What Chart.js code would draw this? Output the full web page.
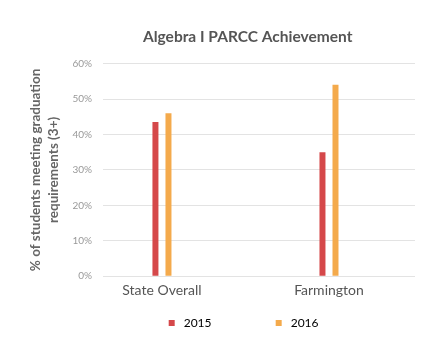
<!DOCTYPE html>
<html>
<head>
<meta charset="utf-8">
<script src="https://cdn.jsdelivr.net/npm/chart.js@4.4.1/dist/chart.umd.min.js"></script>
<style>
  html, body { margin: 0; padding: 0; background: #fff; }
  #wrap { width: 447px; height: 351px; }
</style>
</head>
<body>
<div id="wrap"><canvas id="myChart"></canvas></div>
<script>
// Chart data
const categories = ['State Overall', 'Farmington'];
const years = ['2015', '2016'];
const values2015 = [43.5, 35];
const values2016 = [46, 54];
const yTicks = [0, 10, 20, 30, 40, 50, 60];

// extra room (px) after each legend label, so the items sit apart like the original
const legendGaps = [50, 34];

Chart.defaults.font.family = 'Lato, sans-serif';

function toPoints(values) {
    return values.map((v, i) => ({ x: i, y: v }));
}

// pad a text with spaces up to roughly `gap` extra pixels
function padText(chart, text, gap, font) {
    const c = chart.ctx;
    c.save();
    c.font = font;
    const spaceW = c.measureText(' ').width || 3;
    c.restore();
    return text + ' '.repeat(Math.round(gap / spaceW));
}

const ctx = document.getElementById('myChart').getContext('2d');
new Chart(ctx, {
    type: 'bar',
    data: {
        datasets: [{
            label: years[0],
            data: toPoints(values2015),
            backgroundColor: '#d5484a',
            categoryPercentage: 0.156,
            barPercentage: 0.46
        }, {
            label: years[1],
            data: toPoints(values2016),
            backgroundColor: '#f4aa4c',
            categoryPercentage: 0.156,
            barPercentage: 0.46
        }]
    },
    options: {
        responsive: true,
        maintainAspectRatio: false,
        animation: false,
        layout: {
            padding: { left: 27, right: 32, top: 0, bottom: 12 }
        },
        plugins: {
            title: {
                display: true,
                fullSize: false,
                text: 'Algebra I PARCC Achievement' + '      ',
                color: '#555',
                font: { size: 15.5, weight: 'bold' },
                padding: { top: 28, bottom: 17 }
            },
            legend: {
                position: 'bottom',
                fullSize: false,
                labels: {
                    usePointStyle: true,
                    pointStyle: 'rect',
                    boxWidth: 12,
                    boxHeight: 6,
                    padding: 12,
                    color: '#555',
                    font: { size: 12 },
                    generateLabels: chart => chart.data.datasets.map((ds, i) => ({
                        text: padText(chart, ds.label, legendGaps[i], '12px Lato, sans-serif'),
                        fillStyle: ds.backgroundColor,
                        strokeStyle: ds.backgroundColor,
                        lineWidth: 0,
                        pointStyle: 'rect',
                        hidden: false,
                        datasetIndex: i
                    }))
                }
            },
            tooltip: { enabled: false }
        },
        scales: {
            x: {
                type: 'linear',
                offset: false,
                bounds: 'data',
                min: -0.353,
                max: 1.515,
                afterBuildTicks: axis => {
                    axis.ticks = categories.map((c, i) => ({ value: i }));
                },
                ticks: {
                    callback: value => categories[value],
                    color: '#555',
                    font: { size: 14 },
                    padding: 6,
                    autoSkip: false,
                    maxRotation: 0
                },
                grid: { display: false, offset: false, drawTicks: false },
                border: { display: false }
            },
            y: {
                min: 0,
                max: 60,
                afterBuildTicks: axis => {
                    axis.ticks = yTicks.map(v => ({ value: v }));
                },
                afterFit: axis => {
                    axis.width = 76;
                },
                ticks: {
                    callback: value => value + '%',
                    color: '#999',
                    font: { size: 10 },
                    padding: 11
                },
                grid: { color: '#e3e3e3', drawTicks: false },
                border: { display: false },
                title: {
                    display: true,
                    text: ['% of students meeting graduation', 'requirements (3+)'],
                    color: '#666',
                    font: { size: 13.5, weight: 'bold', lineHeight: 1.34 },
                    padding: { top: 0, bottom: 10 }
                }
            }
        }
    }
});
</script>
</body>
</html>
